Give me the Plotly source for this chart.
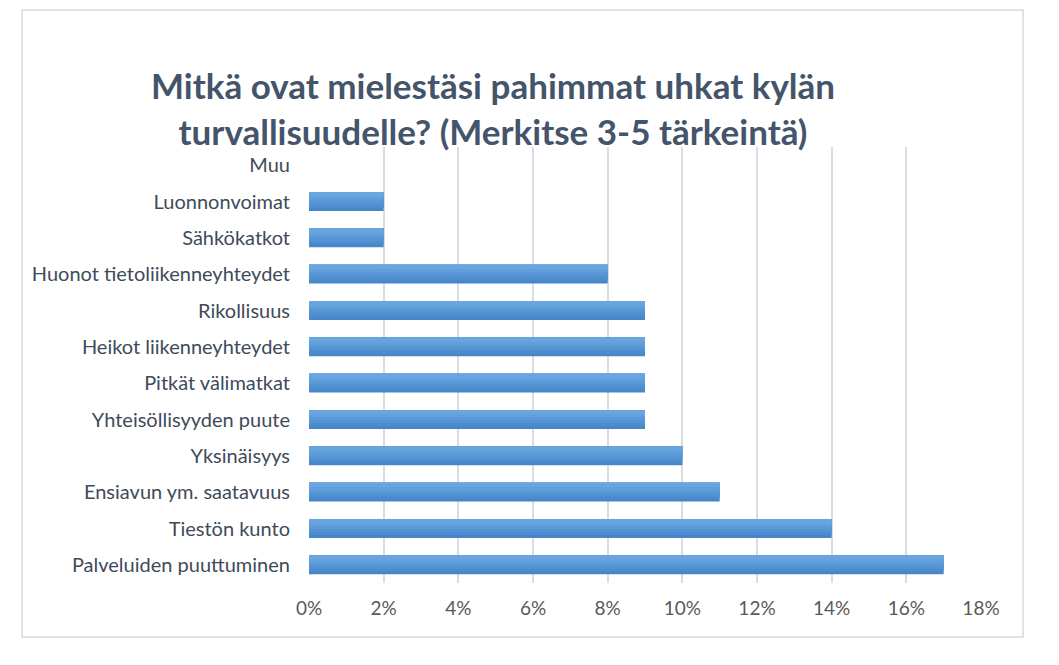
import plotly.graph_objects as go

# Categories listed top to bottom as in the chart
categories = [
    "Muu",
    "Luonnonvoimat",
    "Sähkökatkot",
    "Huonot tietoliikenneyhteydet",
    "Rikollisuus",
    "Heikot liikenneyhteydet",
    "Pitkät välimatkat",
    "Yhteisöllisyyden puute",
    "Yksinäisyys",
    "Ensiavun ym. saatavuus",
    "Tiestön kunto",
    "Palveluiden puuttuminen",
]
shares = [0.0, 0.02, 0.02, 0.08, 0.09, 0.09, 0.09, 0.09, 0.10, 0.11, 0.14, 0.17]
x_ticks = [0.0, 0.02, 0.04, 0.06, 0.08, 0.10, 0.12, 0.14, 0.16, 0.18]

title = "Mitkä ovat mielestäsi pahimmat uhkat kylän<br>turvallisuudelle? (Merkitse 3-5 tärkeintä)"

FONT = "Lato"
TEXT = "#404B5A"

# page body has an 8px margin, so the figure is a little smaller than the window
W, H = 1051, 657

fig = go.Figure()

# fake the Excel gradient: dark full bar, then lighter and shorter bands over its top
band_widths = [0.52, 0.44, 0.36, 0.28, 0.20, 0.12]
band_colors = ["#4787C9", "#4D8DCE", "#5393D3", "#5A99D7", "#61A0DB", "#69A5DE"]
for w, col in zip(band_widths, band_colors):
    fig.add_trace(go.Bar(
        y=categories, x=shares, orientation="h",
        offset=-0.26, width=w,
        marker=dict(color=col, line=dict(width=0)),
        showlegend=False, hovertemplate="%{y}: %{x:.0%}<extra></extra>",
    ))

fig.update_layout(
    width=W, height=H,
    margin=dict(l=301, r=78, t=139, b=82),
    paper_bgcolor="white", plot_bgcolor="white",
    barmode="overlay",
    font=dict(family=FONT, size=20, color=TEXT),
    title=dict(
        text=f"<b>{title}</b>", x=485 / W, xanchor="center",
        y=1 - 91 / H, yanchor="middle", yref="container",
        font=dict(family=FONT, size=35, color="#44546A"),
    ),
    xaxis=dict(
        range=[0, 0.18], tickvals=x_ticks, tickformat=".0%",
        showgrid=True, gridcolor="#D9DDE3", gridwidth=1.5,
        zeroline=False, showline=False, ticks="",
        ticklabelstandoff=12, tickfont=dict(size=19, color="#595959"),
    ),
    yaxis=dict(
        autorange="reversed", showgrid=False, showline=False, ticks="",
        ticklabelstandoff=18, tickfont=dict(size=20, color=TEXT),
    ),
    shapes=[dict(
        type="rect", xref="paper", yref="paper",
        x0=(22 - 309) / 672, x1=(1023 - 309) / 672,
        y0=(583 - 637) / 436, y1=(583 - 10) / 436,
        line=dict(color="#D9D9D9", width=1.5), layer="below",
    )],
)

fig.write_html("out.html")
